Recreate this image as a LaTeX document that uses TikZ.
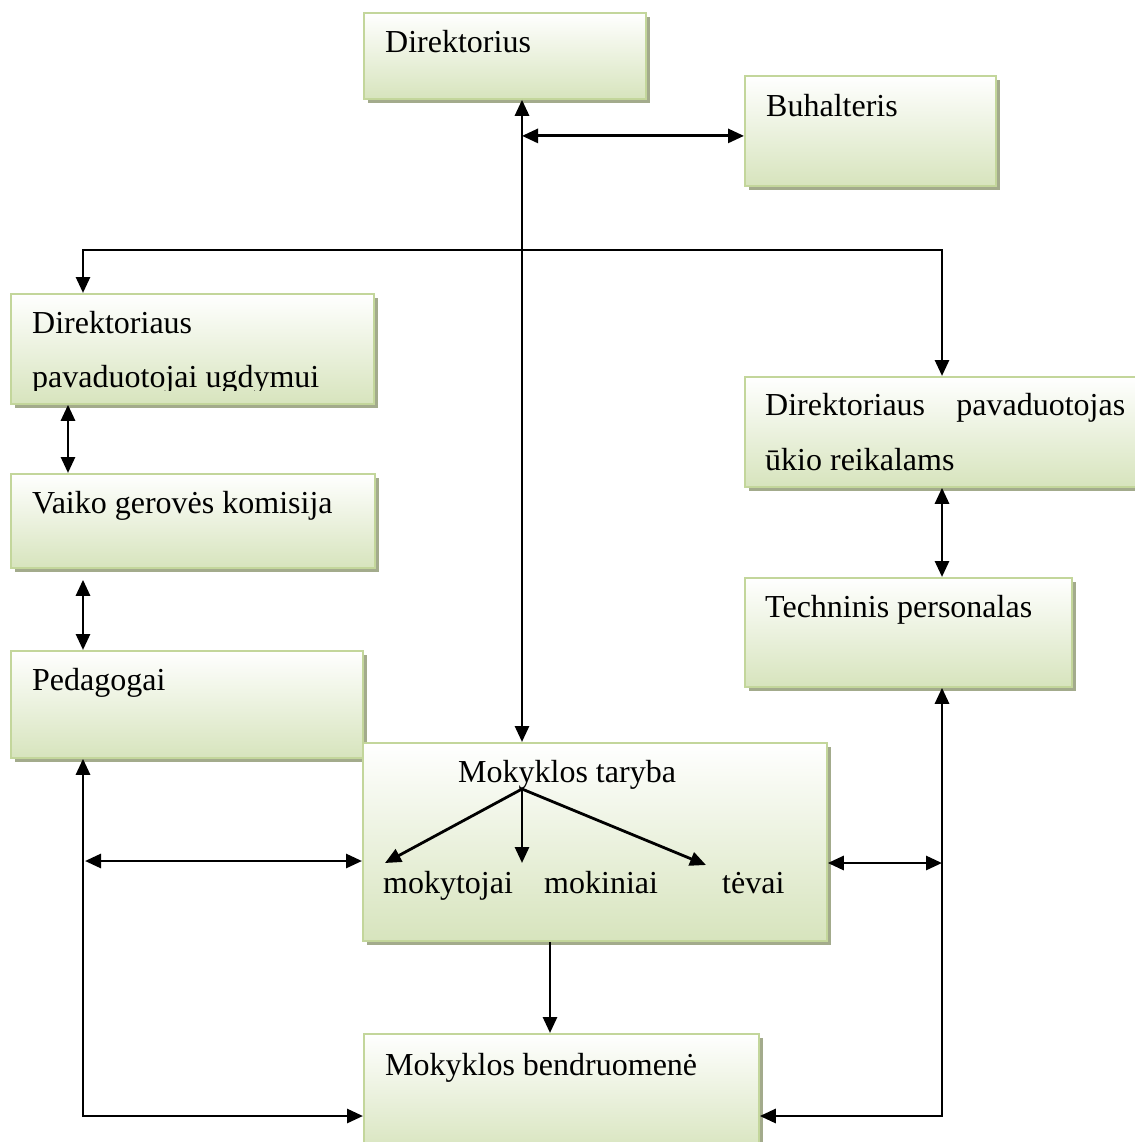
\documentclass[tikz,border=0pt]{standalone}
\usepackage{fontspec}
\setmainfont{Liberation Serif}
\usetikzlibrary{arrows.meta,shadows}
\definecolor{boxfill}{HTML}{D7E4BD}
\definecolor{boxline}{HTML}{C3D69B}
\definecolor{boxshadow}{HTML}{A3AB8C}
\tikzset{
  orgbox/.style={draw=boxline, line width=1.8pt, top color=white, bottom color=boxfill,
    anchor=north west, inner sep=0pt,
    drop shadow={shadow xshift=4pt, shadow yshift=-4pt, fill=boxshadow, opacity=1}},
  lbl/.style={anchor=base west, inner sep=0pt, font=\fontsize{32}{40}\selectfont},
  link/.style={line width=2.8pt, >={Triangle[length=16pt,width=14pt]}},
}
\begin{document}
\begin{tikzpicture}[x=1pt, y=-1pt]
\useasboundingbox (0,0) rectangle (1134,1142);
% boxes
\node[orgbox, minimum width=282, minimum height=86] (direktorius) at (363,12) {};
\node[orgbox, minimum width=251, minimum height=110] (buhalteris) at (744,75) {};
\node[orgbox, minimum width=363, minimum height=110] (pavUgdymui) at (10,293) {};
\node[orgbox, minimum width=364, minimum height=94] (vgk) at (10,473) {};
\node[orgbox, minimum width=352, minimum height=107] (pedagogai) at (10,650) {};
\node[orgbox, minimum width=464, minimum height=198] (taryba) at (362,742) {};
\node[orgbox, minimum width=400, minimum height=110] (pavUkio) at (744,376) {};
\node[orgbox, minimum width=327, minimum height=109] (techninis) at (744,577) {};
\node[orgbox, minimum width=395, minimum height=120] (bendruomene) at (363,1033) {};
% texts
\node[lbl] (direktoriusT) at (385,53) {Direktorius};
\node[lbl] (buhalterisT) at (766,117) {Buhalteris};
\begin{scope}
\clip (10,293) rectangle (374,390);
\node[lbl] (pavUgdT1) at (32,333) {Direktoriaus};
\node[lbl] (pavUgdT2) at (32,387) {pavaduotojai ugdymui};
\end{scope}
\node[lbl] (vgkT) at (32,513) {Vaiko gerovės komisija};
\node[lbl] (pedagogaiT) at (32,690) {Pedagogai};
\node[lbl] (pavUkT1) at (765,415) {\makebox[360pt][s]{Direktoriaus pavaduotojas}};
\node[lbl] (pavUkT2) at (765,470) {ūkio reikalams};
\node[lbl] (techninisT) at (765,617) {Techninis personalas};
\node[lbl] (tarybaT) at (458,782) {Mokyklos taryba};
\node[lbl] (mokytojai) at (383,893) {mokytojai};
\node[lbl] (mokiniai) at (544,893) {mokiniai};
\node[lbl] (tevai) at (722,893) {tėvai};
\node[lbl] (bendruomeneT) at (385,1075) {Mokyklos bendruomenė};
% helper points
\coordinate (spine) at (522,0);
\coordinate (buhY) at ([yshift=-5pt]buhalteris.west);
\coordinate (busL) at (83,250);
\coordinate (busR) at (942,250);
\coordinate (colA) at (68,0);
\coordinate (lowL) at (83,1116);
\coordinate (lowR) at (942,1116);
\coordinate (midL) at (85,861);
\coordinate (midR) at (942,863);
\coordinate (drop) at (550,0);
\coordinate (fork) at (522,789);
\coordinate (tipA) at (385,863);
\coordinate (tipB) at (522,863);
\coordinate (tipC) at (706,865);
% connectors
\draw[link,<->] (direktorius.south -| spine) -- (taryba.north -| spine);
\draw[link,<->] (buhY -| spine) -- (buhY);
\draw[link,<->] (pavUgdymui.north -| busL) |- (busR) -- (pavUkio.north -| busR);
\draw[link,<->] (pavUgdymui.south -| colA) -- (vgk.north -| colA);
\draw[link,<->, shorten <=11pt] (vgk.south -| busL) -- (pedagogai.north -| busL);
\draw[link,<->] (pedagogai.south -| lowL) -- (lowL) -- (lowL -| bendruomene.west);
\draw[link,<->] (midL) -- (midL -| taryba.west);
\draw[link,<->] (taryba.east |- midR) -- (midR);
\draw[link,<->] (pavUkio.south -| busR) -- (techninis.north -| busR);
\draw[link,<->] (techninis.south -| lowR) -- (lowR) -- (lowR -| bendruomene.east);
\draw[link,->] (taryba.south -| drop) -- (bendruomene.north -| drop);
\draw[link,->] (fork) -- (tipA);
\draw[link,->] (fork) -- (tipB);
\draw[link,->] (fork) -- (tipC);
\end{tikzpicture}
\end{document}
